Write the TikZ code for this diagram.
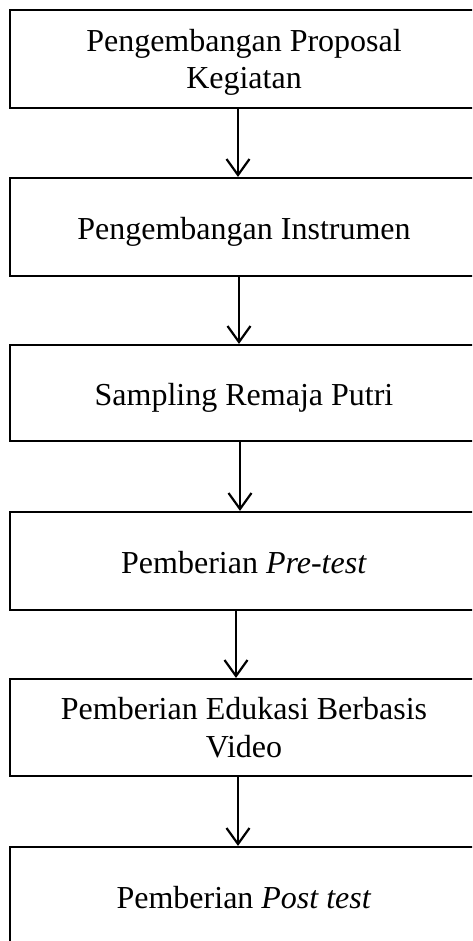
\documentclass[tikz,border=0pt]{standalone}
\usepackage{fontspec}
\setmainfont{Liberation Serif}
\usetikzlibrary{arrows.meta}
\begin{document}
\begin{tikzpicture}[x=1pt,y=1pt,
  stepbox/.style={draw=black, line width=2.2pt, minimum width=468pt, inner sep=0pt,
    font=\fontsize{32}{37.6}\selectfont, align=center, text height=24pt, text depth=0pt},
  twoline/.style={text height=60pt, text depth=0pt},
  arr/.style={line width=2.2pt, -{Straight Barb[length=16pt,width=23pt,line width=2.2pt]}}]
\clip (0,0) rectangle (472,-941);
\node[stepbox, twoline, minimum height=98pt] (b1) at (244,-59) {Pengembangan Proposal\\Kegiatan};
\node[stepbox, minimum height=98pt] (b2) at (244,-227) {Pengembangan Instrumen};
\node[stepbox, minimum height=96pt] (b3) at (244,-393) {Sampling Remaja Putri};
\node[stepbox, minimum height=98pt] (b4) at (244,-561) {Pemberian \textit{Pre-test}};
\node[stepbox, twoline, minimum height=97pt] (b5) at (244,-727.5) {Pemberian Edukasi Berbasis\\Video};
\node[stepbox, minimum height=98pt] (b6) at (244,-896) {Pemberian \textit{Post test}};
\draw[arr] ([xshift=-6pt]b1.south) -- ([xshift=-6pt]b2.north);
\draw[arr] ([xshift=-5pt]b2.south) -- ([xshift=-5pt]b3.north);
\draw[arr] ([xshift=-4pt]b3.south) -- ([xshift=-4pt]b4.north);
\draw[arr] ([xshift=-8pt]b4.south) -- ([xshift=-8pt]b5.north);
\draw[arr] ([xshift=-6pt]b5.south) -- ([xshift=-6pt]b6.north);
\end{tikzpicture}
\end{document}
